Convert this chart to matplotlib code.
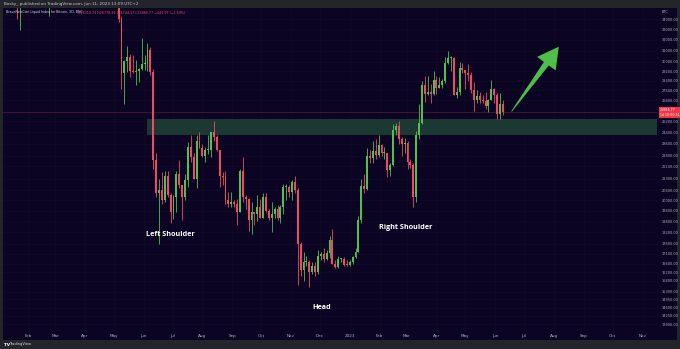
import matplotlib
matplotlib.use("Agg")
import matplotlib.pyplot as plt
import matplotlib.dates as mdates
import matplotlib.transforms as mtransforms
from matplotlib.patches import Rectangle, Polygon
from matplotlib.ticker import NullLocator
import numpy as np
import pandas as pd

# ---------------- data: BNC Bitcoin index, 3D candles (thousand USD) ----------------
first_bar = "2022-05-06"
opens = [36.6, 34.06, 29.0, 30.1, 30.4, 29.2, 29.1, 29.2, 29.4, 29.8,
         29.9, 31.1, 29.1, 22.5, 20.4, 20.6, 20.0, 21.5, 20.3, 19.3,
         20.2, 21.6, 20.9, 20.2, 21.2, 23.4, 22.7, 21.3, 23.8, 23.3,
         22.8, 23.2, 23.2, 24.4, 24.1, 23.2, 21.5, 21.4, 20.0, 19.8,
         19.9, 19.8, 19.3, 21.8, 20.2, 20.1, 18.9, 19.3, 19.2, 19.6,
         19.0, 20.2, 19.4, 19.0, 19.2, 19.5, 19.0, 19.6, 20.8, 20.8,
         20.5, 21.1, 20.6, 17.6, 16.3, 16.7, 16.7, 16.2, 16.5, 16.2,
         16.98, 17.1, 16.85, 17.13, 17.8, 16.6, 16.44, 16.83, 16.84, 16.55,
         16.54, 16.68, 16.95, 17.2, 18.85, 20.88, 20.69, 22.78, 22.61, 23.08,
         22.84, 23.49, 22.94, 22.94, 21.86, 22.2, 24.57, 24.84, 23.95, 23.56,
         23.65, 22.35, 22.2, 20.19, 24.2, 25.05, 28.04, 27.3, 27.49, 27.27,
         28.48, 27.8, 28.03, 28.33, 29.9, 30.32, 30.38, 27.26, 27.5, 29.47,
         29.27, 29.03, 28.9, 27.65, 26.8, 27.17, 26.83, 26.75, 26.33, 26.87,
         27.7, 27.25, 25.76, 26.5]
highs = [36.7, 34.3, 30.2, 31.4, 30.7, 30.6, 30.2, 29.5, 32.2, 30.6,
         31.7, 31.3, 29.4, 23.0, 21.3, 21.7, 21.8, 21.8, 20.4, 20.3,
         21.8, 22.5, 20.9, 21.6, 23.7, 24.2, 23.0, 24.2, 24.4, 23.6,
         23.4, 24.2, 24.4, 25.2, 24.2, 23.2, 21.7, 21.8, 20.5, 20.5,
         20.0, 20.1, 21.9, 22.7, 20.3, 20.1, 19.9, 19.3, 20.3, 20.1,
         20.4, 20.4, 19.5, 19.9, 19.6, 19.7, 19.7, 21.0, 21.0, 20.9,
         21.2, 21.5, 20.7, 17.7, 17.2, 17.0, 16.8, 16.7, 16.7, 17.3,
         17.2, 17.4, 17.3, 18.0, 18.4, 16.8, 17.0, 16.9, 16.95, 16.8,
         16.8, 17.0, 17.4, 19.1, 21.3, 21.6, 23.3, 23.2, 23.8, 23.95,
         24.25, 23.6, 23.4, 23.0, 22.3, 25.0, 25.1, 25.25, 24.1, 24.0,
         23.8, 22.6, 22.3, 24.5, 26.5, 28.4, 28.8, 28.8, 28.1, 29.2,
         28.8, 28.7, 28.5, 30.4, 31.0, 30.5, 30.4, 27.9, 30.0, 29.95,
         29.3, 29.8, 29.1, 28.3, 27.6, 27.5, 27.2, 27.5, 26.9, 28.45,
         27.8, 27.4, 27.35, 26.8]
lows = [33.7, 27.7, 26.5, 29.1, 28.7, 29.0, 28.0, 28.3, 29.3, 29.3,
        29.2, 28.9, 21.9, 20.2, 17.6, 19.8, 19.9, 20.2, 18.7, 18.95,
        19.3, 20.7, 18.9, 20.0, 20.8, 22.4, 21.3, 20.7, 23.3, 22.7,
        22.4, 22.9, 22.7, 23.8, 23.1, 20.8, 20.9, 19.8, 19.6, 19.6,
        19.6, 18.6, 19.3, 19.9, 19.5, 18.3, 18.1, 18.6, 18.8, 19.0,
        19.0, 19.3, 18.9, 18.2, 19.0, 18.9, 18.7, 19.2, 20.0, 20.2,
        20.0, 20.4, 15.6, 16.0, 15.8, 16.5, 15.5, 16.1, 16.0, 16.1,
        16.8, 16.7, 16.8, 16.9, 16.6, 16.4, 16.4, 16.7, 16.5, 16.5,
        16.5, 16.6, 16.9, 17.2, 18.7, 20.4, 20.6, 22.3, 22.3, 22.6,
        22.7, 22.8, 22.6, 21.4, 21.5, 22.1, 24.2, 23.6, 22.8, 23.0,
        21.9, 22.0, 19.6, 19.9, 23.9, 25.0, 26.7, 27.2, 26.6, 27.2,
        27.3, 27.8, 27.8, 28.2, 29.8, 29.2, 27.2, 27.0, 27.2, 29.0,
        27.7, 28.4, 27.4, 26.0, 26.6, 26.6, 26.6, 26.1, 25.9, 26.8,
        26.6, 25.4, 25.4, 25.7]
closes = [34.06, 29.0, 30.1, 30.4, 29.2, 29.1, 29.2, 29.4, 29.8, 29.9,
          31.1, 29.1, 22.5, 20.4, 20.6, 20.0, 21.5, 20.3, 19.3, 20.2,
          21.6, 20.9, 20.2, 21.2, 23.4, 22.7, 21.3, 23.8, 23.3, 22.8,
          23.2, 23.2, 24.4, 24.1, 23.2, 21.5, 21.4, 20.0, 19.8, 19.9,
          19.8, 19.3, 21.8, 20.2, 20.1, 18.9, 19.3, 19.2, 19.6, 19.0,
          20.2, 19.4, 19.0, 19.2, 19.5, 19.0, 19.6, 20.8, 20.8, 20.5,
          21.1, 20.6, 17.6, 16.3, 16.7, 16.7, 16.2, 16.5, 16.2, 16.98,
          17.1, 16.85, 17.13, 17.8, 16.6, 16.44, 16.83, 16.84, 16.55, 16.54,
          16.68, 16.95, 17.2, 18.85, 20.88, 20.69, 22.78, 22.61, 23.08, 22.84,
          23.49, 22.94, 22.94, 21.86, 22.2, 24.57, 24.84, 23.95, 23.56, 23.65,
          22.35, 22.2, 20.19, 24.2, 25.05, 28.04, 27.3, 27.49, 27.27, 28.48,
          27.8, 28.03, 28.33, 29.9, 30.32, 30.38, 27.26, 27.5, 29.47, 29.27,
          29.03, 28.9, 27.65, 26.8, 27.17, 26.83, 26.75, 26.33, 26.87, 27.7,
          27.25, 25.76, 26.5, 25.87]

# early bars whose wicks dip into the top of the window
early_dates = ["2022-01-21", "2022-01-24", "2022-02-23"]
early_open = [40.7, 36.3, 38.2]
early_high = [41.1, 38.9, 39.7]
early_low = [34.0, 32.9, 34.3]
early_close = [36.3, 36.8, 39.2]

zone_start = "2022-06-04"
zone_low, zone_high = 24.2, 25.37
last_price = 25866.77

price_ticks = [34000, 33000, 32000, 31000, 30000, 29200, 28400, 27600, 26800,
               25200, 24400, 23600, 22800, 22100, 21300, 20600, 20000, 19400,
               18800, 18200, 17600, 17100, 16600, 16200, 15800, 15300, 14950,
               14600, 14250, 13900]
month_ticks = ["2022-02-01", "2022-03-01", "2022-04-01", "2022-05-01", "2022-06-01",
               "2022-07-01", "2022-08-01", "2022-09-01", "2022-10-01", "2022-11-01",
               "2022-12-01", "2023-01-01", "2023-02-01", "2023-03-01", "2023-04-01",
               "2023-05-01", "2023-06-01", "2023-07-01", "2023-08-01", "2023-09-01",
               "2023-10-01", "2023-11-01"]
month_labels = ["Feb", "Mar", "Apr", "May", "Jun", "Jul", "Aug", "Sep", "Oct", "Nov",
                "Dec", "2023", "Feb", "Mar", "Apr", "May", "Jun", "Jul", "Aug", "Sep",
                "Oct", "Nov"]

pattern_labels = ["Left Shoulder", "Head", "Right Shoulder"]
pattern_dates = ["2022-06-29", "2022-12-03", "2023-02-28"]
pattern_prices = [18.10, 14.62, 18.48]

arrow_from = ("2023-06-18", 25.95)
arrow_to = ("2023-08-06", 31.37)

header_text = "Bosky_ published on TradingView.com, Jun 11, 2023 13:09 UTC+2"
symbol_text = "BraveNewCoin Liquid Index for Bitcoin, 3D, BNC"
ohlc_text = "O26310.74 H26778.45 L25744.17 C25866.77 \u2212443.97 (\u22121.69%)"

# ---------------- style ----------------
W, H = 680, 349
BG = "#0b0523"
FRAME = "#24252b"
GREEN = "#52bf4e"
RED = "#ee4a62"
ZONE = "#1c3832"
GRID = "#110b27"
LBL = "#aeb1ba"

fig = plt.figure(figsize=(W / 100, H / 100), dpi=100, facecolor=FRAME)


def box(x0, y0, x1, y1):
    return [x0 / W, 1 - y1 / H, (x1 - x0) / W, (y1 - y0) / H]


fig.add_artist(Rectangle((3 / W, 1 - 340 / H), 674 / W, 332 / H,
                         transform=fig.transFigure, fc=BG, ec="none", zorder=0))

ax = fig.add_axes(box(3, 8, 657, 331))
ax.set_facecolor(BG)
ax.set_yscale("log")
ax.set_ylim(13630, 35140)
ax.set_xlim(mdates.datestr2num("2022-01-06"), mdates.datestr2num("2023-11-16"))
for s in ax.spines.values():
    s.set_visible(False)

# candles
t = mdates.date2num(pd.date_range(first_bar, periods=len(opens), freq="3D"))
t = np.concatenate([mdates.datestr2num(early_dates), t])
o = np.array(early_open + opens) * 1000
h = np.array(early_high + highs) * 1000
l = np.array(early_low + lows) * 1000
c = np.array(early_close + closes) * 1000
col = np.where(c >= o, GREEN, RED)
ax.vlines(t, l, h, colors=col, lw=0.6, zorder=3)
lo = np.minimum(o, c)
hi = np.maximum(np.maximum(o, c), lo * 1.003)
ax.bar(t, hi - lo, bottom=lo, width=2.0, color=col, linewidth=0, zorder=4)

# support zone and last price line
zs = mdates.datestr2num(zone_start)
ax.add_patch(Rectangle((zs, zone_low * 1000), ax.get_xlim()[1] - zs,
                       (zone_high - zone_low) * 1000, fc=ZONE, ec="none", zorder=2))
ax.axhline(last_price, color="#4d1838", lw=0.6, zorder=1)

# axes, ticks, grid
ax.yaxis.tick_right()
ax.yaxis.set_minor_locator(NullLocator())
ax.set_yticks(price_ticks)
ax.set_yticklabels([f"{v:.2f}" for v in price_ticks])
ax.set_xticks(mdates.datestr2num(month_ticks))
ax.set_xticklabels(month_labels)
ax.tick_params(axis="both", length=0, labelcolor=LBL)
ax.tick_params(axis="y", pad=3.2, labelsize=2.5)
ax.tick_params(axis="x", pad=2.5, labelsize=3)
ax.grid(True, color=GRID, lw=0.5, zorder=0)
ax.set_axisbelow(True)

# price label box
trans = mtransforms.blended_transform_factory(ax.transAxes, ax.transData)
ax.text(1.004, last_price, f"{last_price:.2f}\n1d 10:50:51", transform=trans,
        fontsize=2.3, color="white", va="center", ha="left", clip_on=False,
        linespacing=1.1, zorder=6,
        bbox=dict(boxstyle="square,pad=0.3", fc="#f23645", ec="none"))

# pattern labels
for txt, d, p in zip(pattern_labels, pattern_dates, pattern_prices):
    ax.text(mdates.datestr2num(d), p * 1000, txt, color="white", fontsize=5.2,
            fontweight="bold", family="Open Sans", ha="center", va="center", zorder=6)

# green arrow (built in pixel space so it keeps its shape on the log axis)
p0 = ax.transData.transform((mdates.datestr2num(arrow_from[0]), arrow_from[1] * 1000))
p1 = ax.transData.transform((mdates.datestr2num(arrow_to[0]), arrow_to[1] * 1000))
u = (p1 - p0) / np.hypot(*(p1 - p0))
n = np.array([-u[1], u[0]])
base = p1 - u * 21
pts = [p0 + n * 0.4, base + n * 3.0, base + n * 11.5, p1,
       base - n * 11.5, base - n * 3.0, p0 - n * 0.4]
fig.add_artist(Polygon(pts, closed=True, transform=mtransforms.IdentityTransform(),
                       fc="#4fbf47", ec="none", zorder=7))

# header / legend / footer texts
fig.text(4 / W, 1 - 4 / H, header_text, fontsize=3, color="#c9c9cc", va="center")
fig.text(6 / W, 1 - 12.5 / H, symbol_text, fontsize=2.3, color="#d1d4dc", va="center")
fig.text(78 / W, 1 - 12.5 / H, ohlc_text, fontsize=2.3, color=RED, va="center")
fig.text(662 / W, 1 - 12 / H, "BTC", fontsize=2.5, color=LBL, va="center")
fig.text(4 / W, 1 - 344.5 / H, "TV", fontsize=3, color="white", fontweight="bold",
         va="center")
fig.text(9.5 / W, 1 - 344.5 / H, "TradingView", fontsize=2.6, color="#d8d8d8",
         va="center")

fig.savefig("out.png", dpi=100, facecolor=fig.get_facecolor())
